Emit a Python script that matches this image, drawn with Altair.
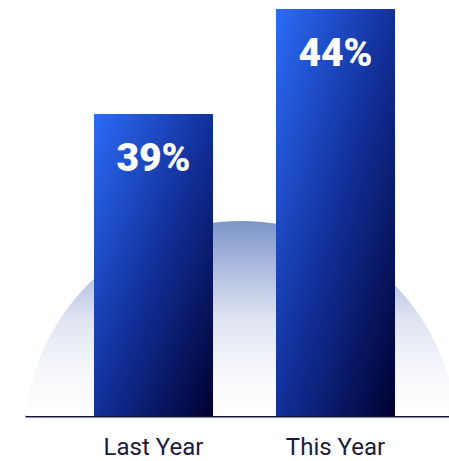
import altair as alt
import pandas as pd

# ---- data ----
categories = ["Last Year", "This Year"]
values = [39, 44]
labels = ["39%", "44%"]

# scale domain (axis not shown)
y_domain = [24.62, 44.43]
bg_center_y = [23.62]
bg_center_x = [0.5094]

df = pd.DataFrame({"period": categories, "value": values, "label": labels})
bg = pd.DataFrame({"cx": bg_center_x, "cy": bg_center_y})

W, H = 424, 416
CIRCLE_D = 432

bar_fill = alt.Gradient(
    gradient="linear",
    stops=[
        alt.GradientStop(color="#2c6cf7", offset=0),
        alt.GradientStop(color="#12309a", offset=0.5),
        alt.GradientStop(color="#000030", offset=1),
    ],
    x1=0, y1=0, x2=1, y2=1,
)

circle_fill = alt.Gradient(
    gradient="linear",
    stops=[
        alt.GradientStop(color="#7c95c8", offset=0),
        alt.GradientStop(color="#a9b8dc", offset=0.10),
        alt.GradientStop(color="#dfe4f2", offset=0.225),
        alt.GradientStop(color="#f6f7fb", offset=0.345),
        alt.GradientStop(color="#ffffff", offset=0.45),
    ],
    x1=0, y1=0, x2=0, y2=1,
)

y_scale = alt.Scale(domain=y_domain, zero=False, nice=False)

circle = alt.Chart(bg).mark_point(
    filled=True, shape="circle", size=CIRCLE_D * CIRCLE_D, opacity=1,
    fill=circle_fill, strokeWidth=0, clip=True,
).encode(
    x=alt.X("cx:Q", scale=alt.Scale(domain=[0, 1]), axis=None),
    y=alt.Y("cy:Q", scale=y_scale, axis=None),
)

x_enc = alt.X(
    "period:N",
    sort=categories,
    scale=alt.Scale(paddingInner=0.346, paddingOuter=0.3378, align=0.561),
    axis=alt.Axis(
        title=None, labelAngle=0, ticks=False, domain=True,
        domainColor="#16163d", domainWidth=2,
        labelFont="Roboto", labelFontSize=24, labelColor="#1b1b40",
        labelPadding=19, labelBaseline="top",
    ),
)

bars = alt.Chart(df).mark_bar(fill=bar_fill, clip=False).encode(
    x=x_enc,
    y=alt.Y("value:Q", scale=y_scale, axis=None),
    y2=alt.Y2(datum=y_domain[0]),
)

text = alt.Chart(df).mark_text(
    font="Roboto", fontSize=39, fontWeight=900, color="white",
    baseline="alphabetic", dy=57,
).encode(
    x=alt.X("period:N", sort=categories),
    y=alt.Y("value:Q", scale=y_scale, axis=None),
    text="label:N",
)

chart = alt.layer(circle, alt.layer(bars, text)).resolve_scale(
    x="independent"
).properties(
    width=W, height=H,
    background="white",
    padding={"left": 25, "top": 0, "right": 0, "bottom": 45},
    autosize=alt.AutoSizeParams(type="none"),
).configure_view(stroke=None)

chart.save("out.html", embed_options={"renderer": "svg", "actions": False})
